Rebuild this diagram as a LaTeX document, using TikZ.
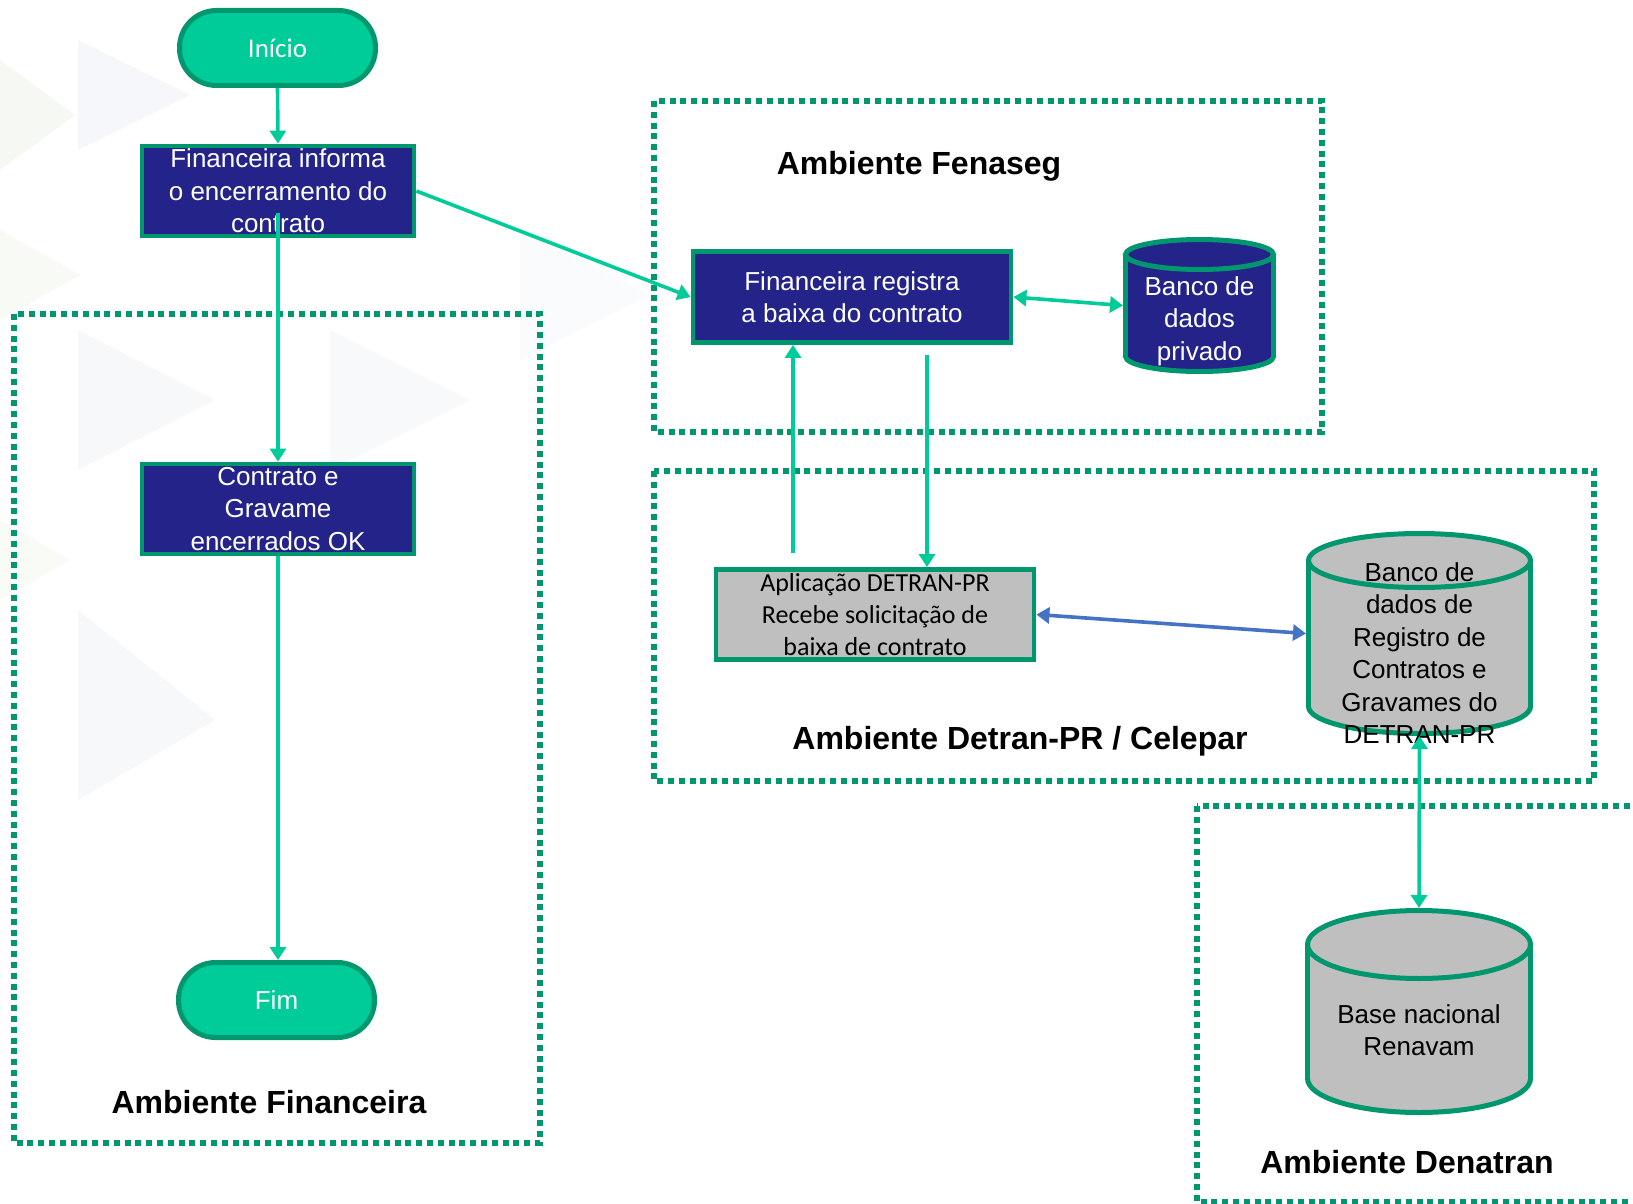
\documentclass[tikz,border=0pt]{standalone}
\usepackage{fontspec}
\setmainfont{Liberation Sans}
\newfontfamily\calfont{Carlito}
\usetikzlibrary{arrows.meta}
\definecolor{termfill}{RGB}{0,204,153}
\definecolor{dkgreen}{RGB}{0,150,110}
\definecolor{navyfill}{RGB}{35,35,137}
\definecolor{grayfill}{RGB}{191,191,191}
\definecolor{tealline}{RGB}{0,204,153}
\definecolor{blueline}{RGB}{68,114,196}
\definecolor{bgblue}{RGB}{196,206,224}
\definecolor{bggreen}{RGB}{205,226,190}
\newcommand\drawcyl[6]{% cx, y top-ellipse centre, y bottom-ellipse centre, rx, ry, fill
  \draw[cylline, fill=#6] (#1,#3) ellipse [x radius=#4, y radius=#5];
  \fill[#6] (#1-#4,#2) rectangle (#1+#4,#3);
  \draw[cylline] (#1-#4,#2) -- (#1-#4,#3) (#1+#4,#2) -- (#1+#4,#3);
  \draw[cylline, fill=#6] (#1,#2) ellipse [x radius=#4, y radius=#5];
}
\begin{document}
\begin{tikzpicture}[x=0.5pt, y=-0.5pt,
  txt/.style={font=\fontsize{13}{16.2}\selectfont, align=center, inner sep=0pt},
  term/.style={txt, draw=dkgreen, line width=2.5pt, fill=termfill, text=white,
    rounded corners=18.5pt, minimum width=98pt, minimum height=37.5pt},
  navybox/.style={txt, draw=dkgreen, line width=2.4pt, fill=navyfill, text=white},
  graybox/.style={txt, draw=dkgreen, line width=2.4pt, fill=grayfill, text=black,
    font=\calfont\fontsize{13}{16}\selectfont},
  ghost/.style={inner sep=0pt, outer sep=0pt},
  cylline/.style={draw=dkgreen, line width=2.5pt},
  title/.style={font=\bfseries\fontsize{16}{19}\selectfont, inner sep=0pt},
  dotbox/.style={draw=dkgreen, line width=2.6pt, dash pattern=on 3pt off 2.4pt},
  arr/.style={draw=tealline, line width=1.8pt, -{Triangle[length=6.5pt, width=8pt]}},
  arrboth/.style={draw=tealline, line width=1.8pt, {Triangle[length=6.5pt, width=8pt]}-{Triangle[length=6.5pt, width=8pt]}},
  arrblue/.style={draw=blueline, line width=1.8pt, {Triangle[length=6.5pt, width=8pt]}-{Triangle[length=6.5pt, width=8pt]}}
]
\useasboundingbox (0,0) rectangle (1633,1204);
\fill[white] (0,0) rectangle (1633,1204);

% faint background watermark
\begin{scope}[opacity=0.25]
  \fill[bgblue!60] (78,40) -- (78,150) -- (190,95) -- cycle;
  \fill[bggreen!70] (0,60) -- (0,170) -- (75,115) -- cycle;
  \fill[bgblue!50] (78,330) -- (78,470) -- (215,400) -- cycle;
  \fill[bggreen!60] (0,230) -- (0,320) -- (80,275) -- cycle;
  \fill[bgblue!50] (78,610) -- (78,800) -- (215,720) -- cycle;
  \fill[bggreen!50] (0,520) -- (0,600) -- (70,560) -- cycle;
  \fill[bgblue!40] (330,330) -- (330,470) -- (470,400) -- cycle;
  \fill[bgblue!30] (520,230) -- (520,360) -- (650,295) -- cycle;
\end{scope}

% environments
\draw[dotbox] (14,314) rectangle (540,1143);
\draw[dotbox] (654,101) rectangle (1322,432);
\draw[dotbox] (654,471) rectangle (1594,781);
\draw[dotbox] (1197,806) rectangle (1660,1202);

\node[title] (tfin) at (269,1102) {Ambiente Financeira};
\node[title] (tfen) at (919,166) {Ambiente Fenaseg};
\node[title] (tdet) at (1020,741) {Ambiente Detran-PR / Celepar};
\node[title] (tden) at (1407,1162) {Ambiente Denatran};

% flow nodes
\node[term, font=\calfont\fontsize{13.5}{16}\selectfont] (start) at (277.5,48) {Início};
\node[navybox, minimum width=136pt, minimum height=45pt] (box1) at (278,191)
  {Financeira informa\\o encerramento do\\contrato};
\node[navybox, minimum width=136pt, minimum height=45pt] (box2) at (278,509)
  {Contrato e\\Gravame\\encerrados OK};
\node[term] (fim) at (276.5,1000) {Fim};

\node[navybox, minimum width=159pt, minimum height=45.5pt] (reg) at (852,297)
  {Financeira registra\\a baixa do contrato};
\node[graybox, minimum width=159pt, minimum height=45pt] (app) at (875,614.5)
  {Aplicação DETRAN-PR\\Recebe solicitação de\\baixa de contrato};

% databases
\drawcyl{1199.5}{254.5}{356.5}{74}{15}{navyfill}
\node[ghost, minimum width=76.5pt, minimum height=68.5pt] (priv) at (1199.5,305.5) {};
\node[txt, text=white] (privtxt) at (1199.5,321) {Banco de\\dados\\privado};

\drawcyl{1419.5}{560.5}{706.5}{111}{27}{grayfill}
\node[ghost, minimum width=113.5pt, minimum height=102.5pt] (dcyl) at (1419.5,633.5) {};
\node[txt] (dcyltxt) at (1419.5,653) {Banco de\\dados de\\Registro de\\Contratos e\\Gravames do\\DETRAN-PR};

\drawcyl{1419}{944.5}{1078.5}{111.5}{34}{grayfill}
\node[ghost, minimum width=114pt, minimum height=103.5pt] (ren) at (1419,1011.5) {};
\node[txt] (rentxt) at (1419,1030) {Base nacional\\Renavam};

% connectors
\draw[arr] (start.south) -- (box1.north);
\draw[arr] ([yshift=-11pt]box1.center) -- (box2.north);
\draw[arr] (box2.south) -- (box2.south |- fim.north);
\draw[arr] (box1.east) -- (reg.west);
\draw[arrboth] (reg.east) -- (priv.west);
\coordinate (upS) at (793,553);
\draw[arr] (upS) -- (upS |- reg.south);
\coordinate (dnS) at (927,355);
\draw[arr] (dnS) -- (dnS |- app.north);
\draw[arrblue] (app.east) -- (dcyl.west);
\draw[arrboth] (dcyl.south) -- (ren.north);
\end{tikzpicture}
\end{document}
